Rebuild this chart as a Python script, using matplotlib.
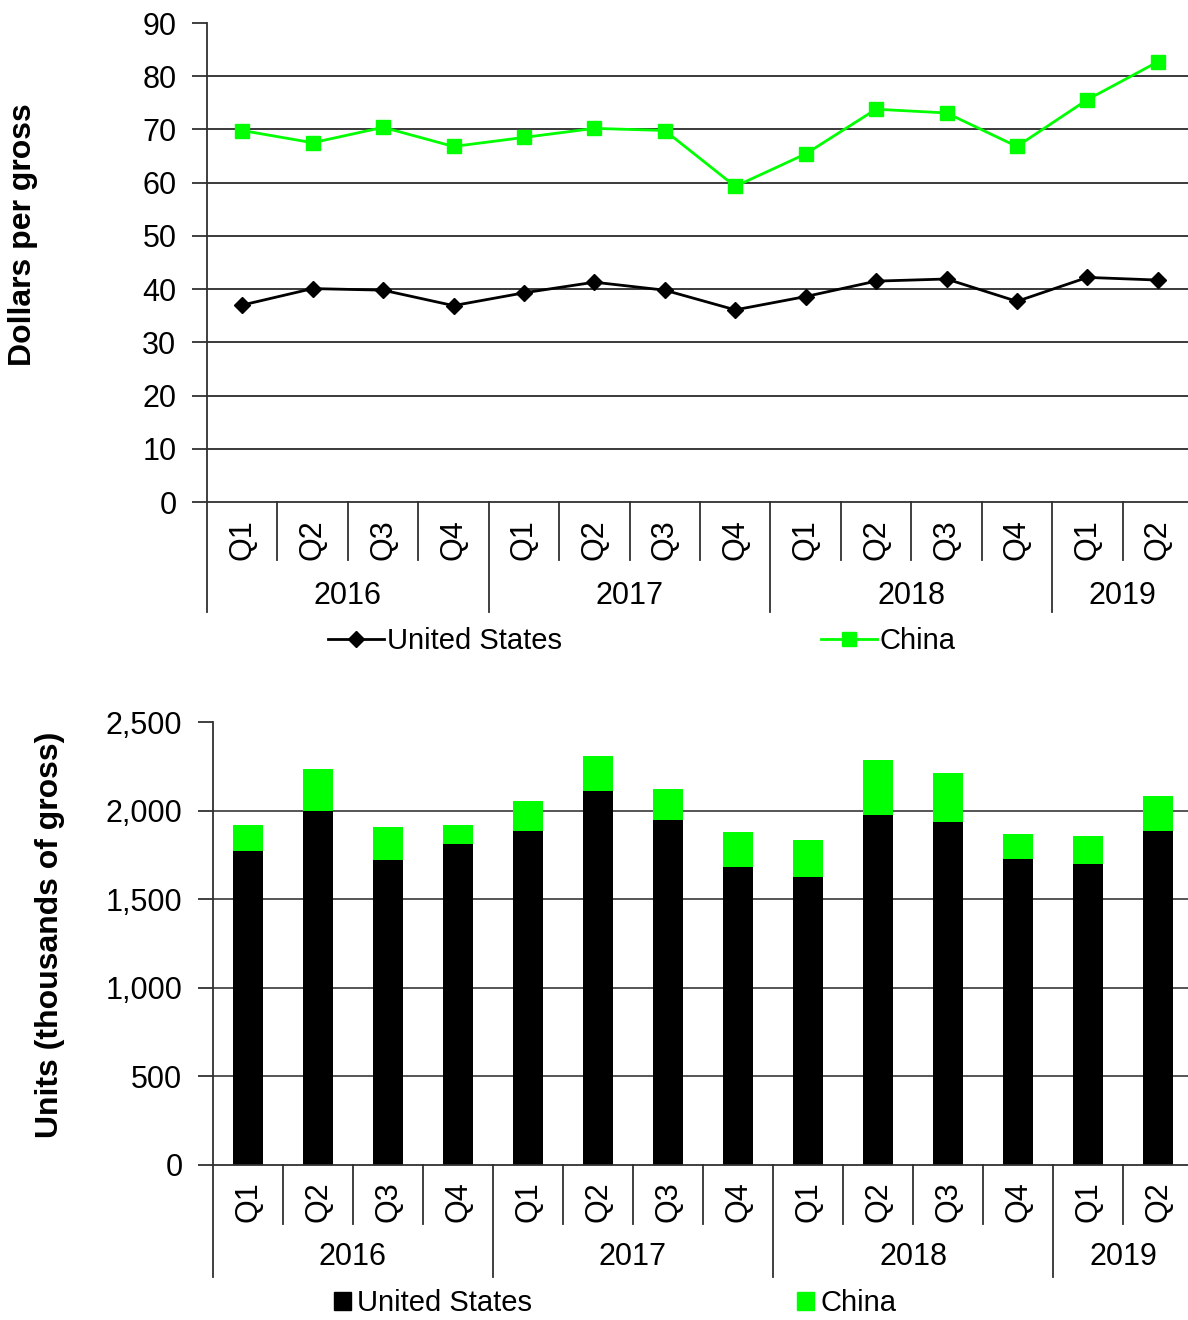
import matplotlib
matplotlib.use('Agg')

import matplotlib.pyplot as plt
import matplotlib.transforms as mtransforms
from matplotlib.lines import Line2D
from matplotlib.patches import Patch
from matplotlib.ticker import FuncFormatter
import numpy as np


# --- data -------------------------------------------------------------------
quarters = ['Q1', 'Q2', 'Q3', 'Q4'] * 3 + ['Q1', 'Q2']
years = ['2016', '2017', '2018', '2019']
quarters_per_year = [4, 4, 4, 2]

price_us = [37.0, 40.1, 39.8, 36.9, 39.3, 41.3, 39.8, 36.1, 38.6, 41.5, 41.9, 37.7, 42.2, 41.7]
price_china = [69.8, 67.5, 70.4, 66.8, 68.5, 70.2, 69.8, 59.3, 65.4, 73.8, 73.1, 66.8, 75.6, 82.7]

units_us = [1772, 1997, 1721, 1813, 1886, 2110, 1945, 1683, 1627, 1973, 1937, 1727, 1698, 1886]
units_china = [148, 235, 186, 107, 166, 196, 178, 194, 208, 310, 273, 142, 158, 194]

series_names = ['United States', 'China']


# --- style ------------------------------------------------------------------
FIG_W, FIG_H = 1188, 1320  # pixels
DPI = 100
FS = 22          # tick / category labels
LEGEND_FS = 21
TITLE_FS = 23
GREEN = '#00ff00'
AXIS_COLOR = '#303030'
GRID_COLOR = '#3a3a3a'

plt.rcParams['font.family'] = ['Liberation Sans', 'DejaVu Sans']


def px_rect(left, top, right, bottom):
    return [left / FIG_W, 1 - bottom / FIG_H, (right - left) / FIG_W, (bottom - top) / FIG_H]


def style_value_axis(ax, ymax, step, grid_color):
    ax.set_xlim(-0.5, len(quarters) - 0.5)
    ax.set_ylim(0, ymax)
    ticks = np.arange(0, ymax + step / 2, step)
    ax.set_yticks(ticks)
    for t in ticks[1:-1]:
        ax.axhline(t, color=grid_color, lw=1.4, zorder=0)
    for side in ('top', 'right'):
        ax.spines[side].set_visible(False)
    for side in ('left', 'bottom'):
        ax.spines[side].set_color(AXIS_COLOR)
        ax.spines[side].set_linewidth(1.3)
    ax.tick_params(axis='y', direction='out', length=11, width=1.3, color=AXIS_COLOR,
                   pad=11, labelsize=FS)
    ax.set_xticks([])


def draw_category_axis(ax, axis_px, height_px, q_label_px, year_label_px, q_sep_px, year_sep_px):
    trans = mtransforms.blended_transform_factory(ax.transData, ax.transAxes)

    def frac(px):
        return -(px - axis_px) / height_px

    line_kw = dict(transform=trans, clip_on=False, color=AXIS_COLOR, lw=1.3)
    for xi, q in enumerate(quarters):
        ax.text(xi, frac(q_label_px), q, rotation=90, ha='center', va='center',
                transform=trans, fontsize=FS)

    start = 0
    for year, n in zip(years, quarters_per_year):
        ax.plot([start - 0.5] * 2, [0, frac(year_sep_px)], **line_kw)
        for k in range(1, n):
            ax.plot([start + k - 0.5] * 2, [0, frac(q_sep_px)], **line_kw)
        ax.text(start + (n - 1) / 2, frac(year_label_px), year, ha='center', va='center',
                transform=trans, fontsize=FS)
        start += n


fig = plt.figure(figsize=(FIG_W / DPI, FIG_H / DPI), dpi=DPI)
x = np.arange(len(quarters))

# Top: price per gross (plot area runs slightly past the right edge)
ax1 = fig.add_axes(px_rect(207, 23, 1193, 502))
style_value_axis(ax1, 90, 10, GRID_COLOR)
ax1.plot(x, price_us, color='black', lw=2, marker='D', ms=8.5, zorder=3)
ax1.plot(x, price_china, color=GREEN, lw=2, marker='s', ms=10.5, zorder=3)
draw_category_axis(ax1, 502, 479, 540, 596, 560, 612)
fig.text(23 / FIG_W, 1 - 235 / FIG_H, 'Dollars per gross', rotation=90, ha='center',
         va='center', fontsize=TITLE_FS, fontweight='bold')

top_handles = [
    Line2D([], [], color='black', lw=2, marker='D', ms=8.5),
    Line2D([], [], color=GREEN, lw=2, marker='s', ms=10.5),
]
fig.legend(top_handles, series_names, loc='center', ncol=2, frameon=False, fontsize=LEGEND_FS,
           bbox_to_anchor=(642 / FIG_W, 1 - 641 / FIG_H), numpoints=1,
           handlelength=1.9, handletextpad=0.1, columnspacing=8.9,
           borderpad=0, borderaxespad=0)

# Bottom: units
ax2 = fig.add_axes(px_rect(213, 722, 1193, 1165))
style_value_axis(ax2, 2500, 500, '#555555')
ax2.yaxis.set_major_formatter(FuncFormatter(lambda v, _: f'{v:,.0f}'))
ax2.bar(x, units_us, width=0.42, color='black', zorder=2)
ax2.bar(x, units_china, width=0.42, bottom=units_us, color=GREEN, zorder=2)
draw_category_axis(ax2, 1165, 443, 1202, 1257, 1224, 1277)
fig.text(50 / FIG_W, 1 - 935 / FIG_H, 'Units (thousands of gross)', rotation=90, ha='center',
         va='center', fontsize=TITLE_FS, fontweight='bold')

bottom_handles = [Patch(color='black'), Patch(color=GREEN)]
fig.legend(bottom_handles, series_names, loc='center', ncol=2, frameon=False, fontsize=LEGEND_FS,
           bbox_to_anchor=(615 / FIG_W, 1 - 1303 / FIG_H),
           handlelength=0.59, handleheight=0.59, handletextpad=0.2, columnspacing=9.1,
           borderpad=0, borderaxespad=0)

fig.savefig('out.png', dpi=DPI, facecolor='white')
plt.close(fig)
